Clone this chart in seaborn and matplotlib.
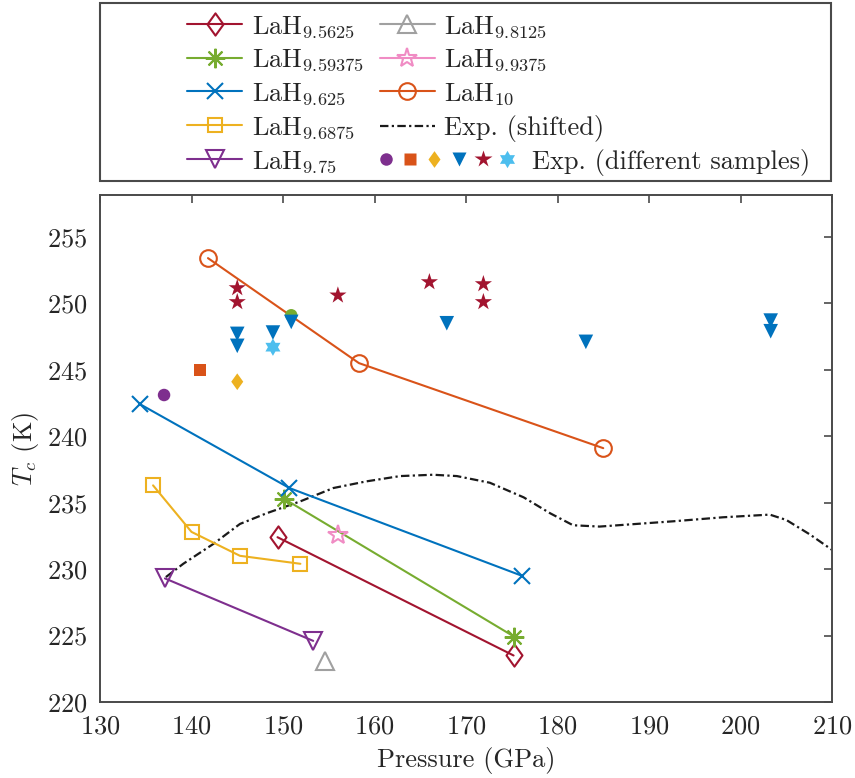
import numpy as np
import pandas as pd
import matplotlib
matplotlib.use("Agg")
import matplotlib.pyplot as plt
import seaborn as sns
from matplotlib.path import Path
from matplotlib.lines import Line2D
from matplotlib.legend_handler import HandlerTuple
from matplotlib.patches import Rectangle

# ---- calculated Tc for each hydrogen content ----
p_95625 = [149.4, 175.2]
tc_95625 = [232.4, 223.5]
p_959375 = [150.1, 175.3]
tc_959375 = [235.3, 224.9]
p_9625 = [134.4, 150.7, 176.1]
tc_9625 = [242.4, 236.1, 229.5]
p_96875 = [135.8, 140.0, 145.3, 151.9]
tc_96875 = [236.3, 232.8, 231.0, 230.4]
p_975 = [137.1, 153.3]
tc_975 = [229.3, 224.6]
p_98125 = [154.6]
tc_98125 = [223.1]
p_99375 = [156.0]
tc_99375 = [232.6]
p_10 = [141.8, 158.3, 185.0]
tc_10 = [253.4, 245.5, 239.1]

# ---- experimental curve (shifted) ----
p_exp = [137.2, 139.1, 142.4, 145.3, 148.2, 151.9, 155.5, 159.1, 162.8, 166.4,
         169.0, 172.6, 176.3, 179.2, 181.7, 184.6, 192.7, 198.1, 203.2, 205.0,
         207.6, 210.1]
tc_exp = [229.4, 230.4, 231.9, 233.4, 234.2, 235.1, 236.1, 236.6, 237.0, 237.1,
          237.0, 236.5, 235.4, 234.2, 233.3, 233.2, 233.6, 233.9, 234.1, 233.7,
          232.6, 231.4]

# ---- experimental samples ----
p_s_circle = [137.0]
tc_s_circle = [243.1]
p_s_square = [140.9]
tc_s_square = [245.0]
p_s_diamond = [145.0]
tc_s_diamond = [244.1]
p_s_green = [150.9]
tc_s_green = [249.1]
p_s_tri = [145.0, 145.0, 148.9, 150.9, 167.9, 183.1, 203.3, 203.3]
tc_s_tri = [247.7, 246.8, 247.8, 248.6, 248.5, 247.1, 248.7, 247.9]
p_s_star = [145.0, 145.0, 156.0, 166.0, 171.9, 171.9]
tc_s_star = [251.15, 250.1, 250.6, 251.6, 251.45, 250.1]
p_s_hex = [148.9]
tc_s_hex = [246.7]

x_ticks = [130, 140, 150, 160, 170, 180, 190, 200, 210]
y_ticks = [220, 225, 230, 235, 240, 245, 250, 255]

# MATLAB-like palette
BLUE = "#0072BD"
ORANGE = "#D95319"
YELLOW = "#EDB120"
PURPLE = "#7E2F8E"
GREEN = "#77AC30"
CYAN = "#4DBEEE"
DRED = "#A2142F"
PINK = "#F08CC4"
GRAY = "#A0A0A0"

sns.set_style("white")
plt.rcParams.update({
    "font.family": ["cmr10", "DejaVu Serif"],
    "mathtext.fontset": "cm",
    "axes.formatter.use_mathtext": True,
    "font.size": 19,
    "axes.unicode_minus": False,
})

thin_diamond = Path([(0, 1), (0.72, 0), (0, -1), (-0.72, 0), (0, 1)],
                    [Path.MOVETO, Path.LINETO, Path.LINETO, Path.LINETO, Path.CLOSEPOLY])
hexagram = Path.unit_regular_star(6, 0.577)
asterisk = (8, 2, 0)

fig = plt.figure(figsize=(8.55, 7.78), dpi=100)
ax = fig.add_axes([100 / 855, 1 - 702 / 778, 732 / 855, 507 / 778])

LW = 1.5
MEW = 1.5

series = [
    (p_95625, tc_95625, DRED, thin_diamond, 16, r"LaH$_{9.5625}$"),
    (p_959375, tc_959375, GREEN, asterisk, 14, r"LaH$_{9.59375}$"),
    (p_9625, tc_9625, BLUE, "x", 11, r"LaH$_{9.625}$"),
    (p_96875, tc_96875, YELLOW, "s", 9.5, r"LaH$_{9.6875}$"),
    (p_975, tc_975, PURPLE, "v", 13, r"LaH$_{9.75}$"),
    (p_98125, tc_98125, GRAY, "^", 13, r"LaH$_{9.8125}$"),
    (p_99375, tc_99375, PINK, "*", 15, r"LaH$_{9.9375}$"),
    (p_10, tc_10, ORANGE, "o", 12, r"LaH$_{10}$"),
]

handles = []
for px, tc, col, mk, ms, lab in series:
    df = pd.DataFrame({"p": px, "tc": tc})
    sns.lineplot(data=df, x="p", y="tc", ax=ax, color=col, lw=LW, sort=False,
                 estimator=None, marker=mk, markersize=ms, mfc="none", mec=col,
                 mew=MEW, zorder=3)
    handles.append(Line2D([], [], color=col, lw=LW, marker=mk, markersize=ms,
                          mfc="none", mec=col, mew=MEW))

DASH = (3.8, 1.5, 1.0, 1.5)
df_exp = pd.DataFrame({"p": p_exp, "tc": tc_exp})
sns.lineplot(data=df_exp, x="p", y="tc", ax=ax, color="#1a1a1a", lw=1.6,
             sort=False, estimator=None, dashes=False, zorder=2)
exp_line = ax.get_lines()[-1]
exp_line.set_dashes(DASH)
h_exp = Line2D([], [], color="#1a1a1a", lw=1.6, dashes=DASH)

samples = [
    (p_s_circle, tc_s_circle, PURPLE, "o", 9),
    (p_s_square, tc_s_square, ORANGE, "s", 8.5),
    (p_s_diamond, tc_s_diamond, YELLOW, thin_diamond, 12),
    (p_s_green, tc_s_green, GREEN, "o", 9),
    (p_s_tri, tc_s_tri, BLUE, "v", 10.5),
    (p_s_star, tc_s_star, DRED, "*", 13),
    (p_s_hex, tc_s_hex, CYAN, hexagram, 12.5),
]
sample_handles = []
for px, tc, col, mk, ms in samples:
    df = pd.DataFrame({"p": px, "tc": tc})
    sns.scatterplot(data=df, x="p", y="tc", ax=ax, color=col, marker=mk,
                    s=ms ** 2, edgecolor="none", linewidth=0, zorder=4)
    if col != GREEN:
        sample_handles.append(Line2D([], [], ls="none", marker=mk, markersize=ms,
                                     color=col, mec="none"))

# axes styling
ax.set_xlim(130, 210)
ax.set_ylim(220, 258.15)
ax.set_xticks(x_ticks)
ax.set_yticks(y_ticks)
ax.set_xlabel("Pressure (GPa)", color="#262626", labelpad=6)
ax.set_ylabel(r"$T_c$ (K)", color="#262626", labelpad=4)
axc = "#4a4a4a"
for s in ax.spines.values():
    s.set_visible(True)
    s.set_color(axc)
    s.set_linewidth(1.4)
ax.tick_params(direction="in", length=6, width=1.2, color=axc,
               top=True, right=True, labelcolor="#262626", pad=9, labelsize=19)

# legend frame
fig.patches.append(Rectangle((100 / 855, 1 - 181 / 778), 731 / 855, 178 / 778,
                             transform=fig.transFigure, facecolor="white",
                             edgecolor=axc, linewidth=1.5, zorder=1))

labels = [s[5] for s in series]
blank = Line2D([], [], alpha=0)
leg_handles = handles[:5] + handles[5:] + [h_exp, blank]
leg_labels = labels[:5] + labels[5:] + ["Exp. (shifted)", " "]
leg1 = fig.legend(leg_handles, leg_labels, ncol=2, loc="upper left",
                  bbox_to_anchor=(187 / 855, 1 - 14 / 778), frameon=False,
                  handlelength=2.1, handletextpad=0.35, columnspacing=0.6,
                  labelspacing=0.3, borderpad=0, borderaxespad=0,
                  fontsize=19, numpoints=1)

leg2 = fig.legend([tuple(sample_handles)], ["Exp. (different samples)"],
                  handler_map={tuple: HandlerTuple(ndivide=None, pad=0)},
                  loc="center left", bbox_to_anchor=(374 / 855, 1 - 162 / 778),
                  frameon=False, handlelength=5.5, handletextpad=0.5,
                  borderpad=0, borderaxespad=0, fontsize=19, numpoints=1)

fig.savefig("out.png", dpi=100)
